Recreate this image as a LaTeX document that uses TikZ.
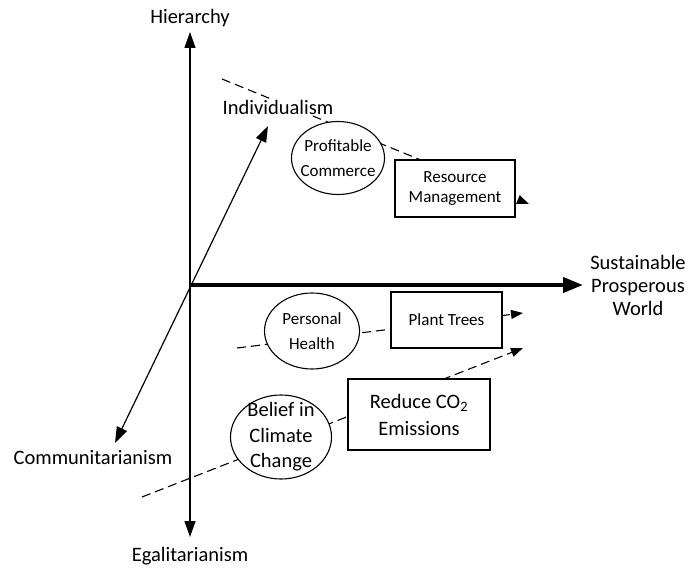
\documentclass[tikz,border=0pt]{standalone}
\usepackage{fontspec}
\setmainfont{Carlito}
\usetikzlibrary{arrows.meta,shapes.geometric}
\begin{document}
\begin{tikzpicture}[x=1pt,y=-1pt,
  big/.style={font=\fontsize{20.5}{25.5}\selectfont},
  small/.style={font=\fontsize{17}{25}\selectfont},
  axisln/.style={line width=1.2pt,{Triangle[length=16pt,width=11pt]}-{Triangle[length=16pt,width=11pt]}},
  dashln/.style={line width=1.1pt,dash pattern=on 9pt off 5pt,-{Triangle[length=12pt,width=9pt]}},
  ell/.style={ellipse,draw,line width=1.1pt,fill=white,inner sep=0pt},
  box/.style={rectangle,draw,line width=1.1pt,fill=white,inner sep=0pt,align=center},
  lbl/.style={inner sep=1pt,align=center}]
\useasboundingbox (0,0) rectangle (692,569);
% coordinates
\coordinate (vtop) at (190,32);
\coordinate (vbot) at (190,537);
\coordinate (O) at (190,285);
\coordinate (htip) at (583,285);
\coordinate (dtop) at (268,126);
\coordinate (dbot) at (115,443);
\coordinate (d1s) at (222,79);
\coordinate (d1e) at (529,204);
\coordinate (d2s) at (237,348);
\coordinate (d2e) at (523,313);
\coordinate (d3s) at (142,497);
\coordinate (d3e) at (523,348);
% dashed influences
\draw[dashln] (d1s) -- (d1e);
\draw[dashln] (d2s) -- (d2e);
\draw[dashln] (d3s) -- (d3e);
% axes
\draw[axisln] (vbot) -- (vtop);
\draw[axisln] (dbot) -- (dtop);
\draw[line width=4pt,-{Triangle[length=20pt,width=15pt]}] (O) -- (htip);
% labels
\node[lbl,big] (hier) at (190,18) {Hierarchy};
\node[lbl,big] (egal) at (190,556) {Egalitarianism};
\node[lbl,big] (comm) at (93,458) {Communitarianism};
\node[lbl,big,fill=white] (indiv) at (278,107) {Individualism};
\node[lbl,big,font=\fontsize{20.5}{23}\selectfont] (spw) at (638,285) {Sustainable\\Prosperous\\World};
% nodes
\node[ell,minimum width=93pt,minimum height=73pt] (pc) at (338,158) {};
\node[lbl,small] (pct) at (pc) {Profitable\\Commerce};
\node[box,small,font=\fontsize{17}{20.5}\selectfont,minimum width=120pt,minimum height=57pt] (rm) at (455,188.5) {Resource\\Management};
\node[ell,minimum width=95pt,minimum height=76pt] (ph) at (312,331) {};
\node[lbl,small] (pht) at (ph) {Personal\\Health};
\node[box,small,minimum width=111pt,minimum height=56pt] (pt) at (446.5,320) {Plant Trees};
\node[ell,minimum width=101pt,minimum height=84pt] (bc) at (281,437) {};
\node[lbl,big] (bct) at (bc) {Belief in\\Climate\\Change};
\node[box,big,font=\fontsize{20.5}{27}\selectfont,minimum width=142pt,minimum height=71pt] (rc) at (419,414.5) {Reduce CO\textsubscript{2}\\Emissions};
\end{tikzpicture}
\end{document}
